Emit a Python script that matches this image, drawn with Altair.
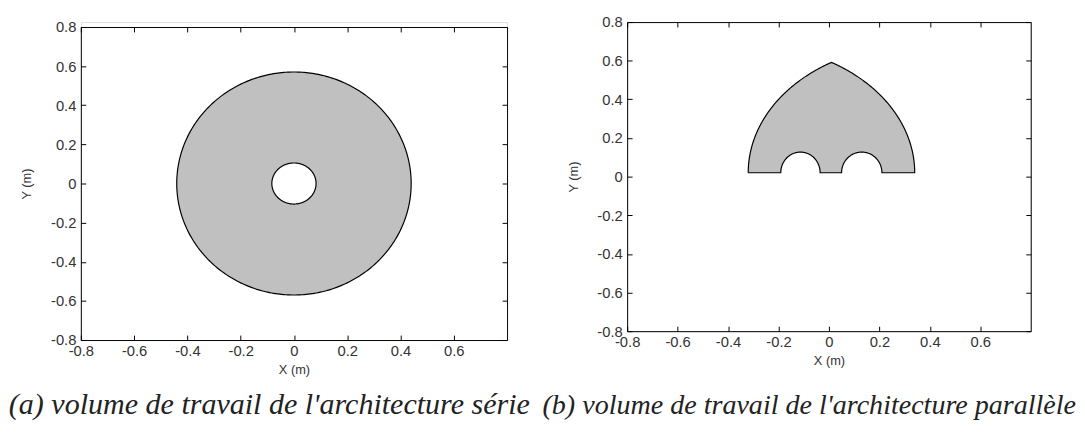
import numpy as np
import pandas as pd
import altair as alt

# ---------------- data ----------------
x_ticks = [-0.8, -0.6, -0.4, -0.2, 0, 0.2, 0.4, 0.6]
y_ticks = [-0.8, -0.6, -0.4, -0.2, 0, 0.2, 0.4, 0.6, 0.8]
axis_domain = [-0.8, 0.8]

# panel (a): serial architecture workspace (annulus)
outer_center = [0.0, 0.0]
outer_radii = [0.44, 0.57]
inner_center = [0.0, 0.0]
inner_radii = [0.083, 0.105]

# panel (b): parallel architecture workspace
base_y = 0.02
corner_x = [-0.32, 0.34]
arch_radius = 0.66
notch_centers = [-0.113, 0.13]
notch_radii_x = [0.078, 0.08]
notch_radii_y = [0.107, 0.107]

captions = ["(a) volume de travail de l'architecture série",
            "(b) volume de travail de l'architecture parallèle"]
x_title = "X (m)"
y_title = "Y (m)"

# ---------------- geometry from the read parameters ----------------
N = 180


def ellipse_band(c, r):
    t = np.linspace(0, np.pi, N + 1)
    return pd.DataFrame({"x": c[0] + r[0] * np.cos(t),
                         "top": c[1] + r[1] * np.sin(t),
                         "bot": c[1] - r[1] * np.sin(t)})


def ellipse_ring(c, r):
    t = np.linspace(0, 2 * np.pi, 2 * N + 1)
    return pd.DataFrame({"x": c[0] + r[0] * np.cos(t),
                         "y": c[1] + r[1] * np.sin(t),
                         "o": np.arange(2 * N + 1)})


xl, xr = corner_x
R = arch_radius
half = (xr - xl) / 2
xa = (xl + xr) / 2
ya = base_y + np.sqrt(R ** 2 - half ** 2)

px, py = [], []
t1 = np.linspace(np.pi, np.arctan2(ya - base_y, xa - xr), N)
px += list(xr + R * np.cos(t1)); py += list(base_y + R * np.sin(t1))
t2 = np.linspace(np.arctan2(ya - base_y, xa - xl), 0, N)
px += list(xl + R * np.cos(t2)); py += list(base_y + R * np.sin(t2))
order_idx = sorted(range(len(notch_centers)), key=lambda i: -notch_centers[i])
for i in order_idx:
    t3 = np.linspace(0, np.pi, N // 2)
    px += list(notch_centers[i] + notch_radii_x[i] * np.cos(t3))
    py += list(base_y + notch_radii_y[i] * np.sin(t3))
px.append(xl); py.append(base_y)
outline_b = pd.DataFrame({"x": px, "y": py, "o": np.arange(len(px))})

xs_b = np.unique(np.array(px))


def top_b(x):
    if x <= xa:
        return base_y + np.sqrt(max(R ** 2 - (x - xr) ** 2, 0))
    return base_y + np.sqrt(max(R ** 2 - (x - xl) ** 2, 0))


def bot_b(x):
    v = base_y
    for c, rx, ry in zip(notch_centers, notch_radii_x, notch_radii_y):
        u = (x - c) / rx
        if abs(u) < 1:
            v += ry * np.sqrt(1 - u * u)
    return v


band_b = pd.DataFrame({"x": xs_b,
                       "top": [top_b(v) for v in xs_b],
                       "bot": [bot_b(v) for v in xs_b]})

# ---------------- styling ----------------
FILL = "#c0c0c0"
LAB_FONT = "Arial"
CAP_FONT = "Liberation Serif"
TICK = {"expr": "-5"}


def axis_main(orient, values, title, pad, tpad):
    return alt.Axis(orient=orient, values=values, labelExpr="'' + datum.value",
                    title=title, grid=False, domainColor="black", domainWidth=1,
                    tickColor="black", tickWidth=1, tickSize=TICK,
                    labelPadding=pad, labelFont=LAB_FONT, labelFontSize=15,
                    labelColor="#333333", labelFlush=False, labelOverlap=False,
                    titleFont=LAB_FONT, titleFontSize=13, titleFontWeight="normal",
                    titleColor="#333333", titlePadding=tpad)


def axis_frame(orient, values, offset=0):
    return alt.Axis(orient=orient, values=values, labels=False, title=None,
                    grid=False, domainColor="black", domainWidth=1,
                    tickColor="black", tickWidth=1, tickSize=TICK, offset=offset)


def panel(band, hole_band, outlines, width, height, shift, caption, cap_size, cap_offset, cap_dx):
    xs = alt.Scale(domain=axis_domain, nice=False, zero=False)
    ys = alt.Scale(domain=axis_domain, nice=False, zero=False, range=[height + shift, shift])
    layers = [
        alt.Chart(band).mark_area(color=FILL, opacity=1).encode(
            x=alt.X("x:Q", scale=xs, axis=axis_main("bottom", x_ticks, x_title, 9, 5)),
            y=alt.Y("top:Q", scale=ys, axis=axis_main("left", y_ticks, y_title, 10, 17)),
            y2="bot:Q")
    ]
    if hole_band is not None:
        layers.append(alt.Chart(hole_band).mark_area(color="white", opacity=1).encode(
            x=alt.X("x:Q", scale=xs, axis=None),
            y=alt.Y("top:Q", scale=ys, axis=None),
            y2="bot:Q"))
    first = True
    for ol in outlines:
        if first:
            xa_ = axis_frame("top", x_ticks, -shift)
            ya_ = axis_frame("right", y_ticks)
            first = False
        else:
            xa_ = None
            ya_ = None
        layers.append(alt.Chart(ol).mark_line(color="black", strokeWidth=1.2).encode(
            x=alt.X("x:Q", scale=xs, axis=xa_),
            y=alt.Y("y:Q", scale=ys, axis=ya_),
            order="o:Q"))
    return alt.layer(*layers).properties(
        width=width, height=height + shift,
        title=alt.TitleParams(text=caption, orient="bottom", anchor="middle", frame="group",
                              font=CAP_FONT, fontSize=cap_size, fontStyle="italic",
                              fontWeight="normal", color="#222222", offset=cap_offset, dx=cap_dx)
    ).resolve_axis(x="independent", y="independent")


left = panel(ellipse_band(outer_center, outer_radii), ellipse_band(inner_center, inner_radii),
             [ellipse_ring(outer_center, outer_radii), ellipse_ring(inner_center, inner_radii)],
             433, 318, 5, captions[0], 30.5, 14, -25)
right = panel(band_b, None, [outline_b], 410, 314, 0, captions[1], 28.5, 24, -20)

chart = alt.hconcat(left, right, spacing=122, bounds="flush").properties(
    padding={"left": 0, "top": 3, "right": 0, "bottom": 0}
).configure_view(stroke=None).configure(background="white")

chart.save("out.html", embed_options={"renderer": "svg", "actions": False})
